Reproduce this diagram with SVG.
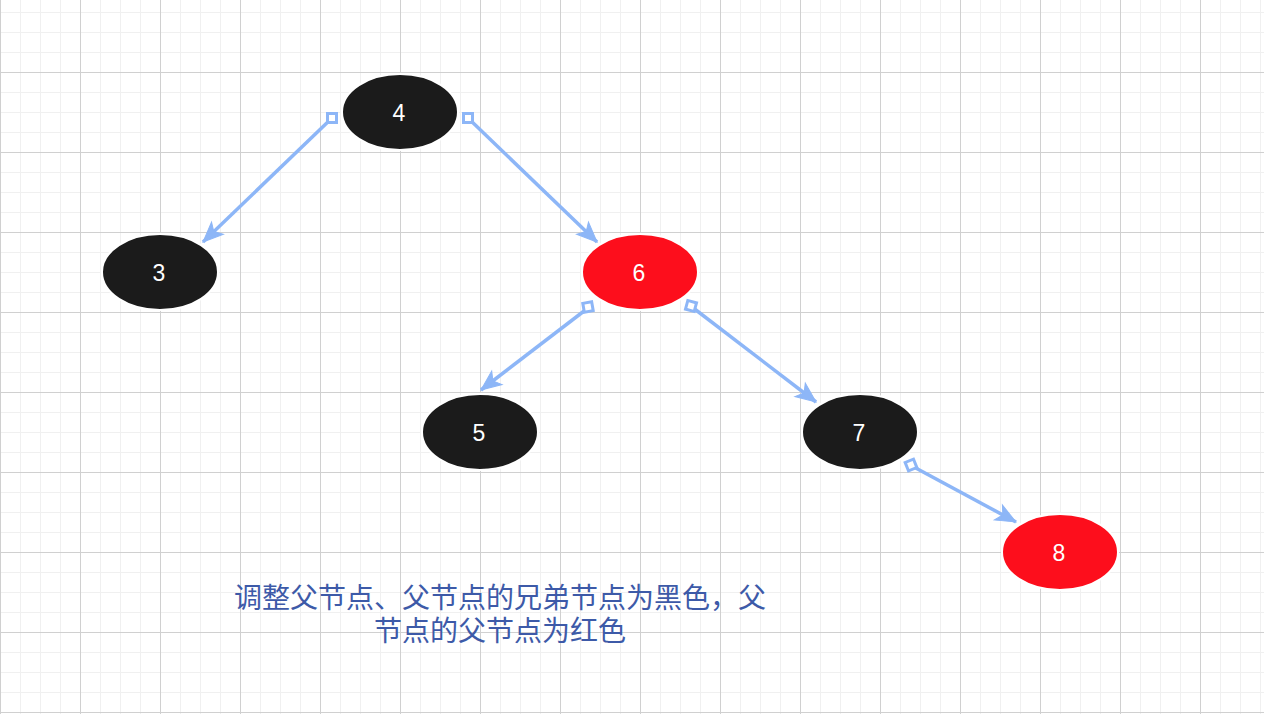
<svg xmlns="http://www.w3.org/2000/svg" width="1264" height="714" viewBox="0 0 1264 714">
<defs>
<pattern id="minor" patternUnits="userSpaceOnUse" x="0" y="12" width="20" height="20">
<path d="M0.5,0 V20 M0,0.5 H20" stroke="#f0f0f0" stroke-width="1" fill="none"/>
</pattern>
<pattern id="major" patternUnits="userSpaceOnUse" x="0" y="72" width="80" height="80">
<path d="M0.5,0 V80 M0,0.5 H80" stroke="#d0d0d0" stroke-width="1" fill="none"/>
</pattern>
<rect id="sq" x="-4.5" y="-4.5" width="9" height="9" fill="#ffffff" stroke="#8db6f7" stroke-width="3"/>
<marker id="arrow" markerUnits="userSpaceOnUse" markerWidth="26" markerHeight="26" refX="21" refY="13" orient="auto" overflow="visible">
<path d="M21,13 L1,4.5 L6,13 L1,21.5 Z" fill="#8db6f7" stroke="#8db6f7" stroke-width="1"/>
</marker>
<style>
.edge{stroke:#8db6f7;stroke-width:3.5;fill:none;marker-end:url(#arrow)}
.black{fill:#1b1b1b;stroke:#ffffff;stroke-width:2}
.red{fill:#fd0e1c;stroke:#ffffff;stroke-width:2}
.num{fill:#ffffff;font-family:"Liberation Sans",Arial,sans-serif;font-size:23px;text-anchor:middle;dominant-baseline:central}
.cap{fill:#3d5aa8;font-family:"Noto Sans CJK SC","Noto Sans CJK TC",sans-serif;font-size:28px;text-anchor:middle}
</style>
</defs>
<rect width="1264" height="714" fill="#ffffff"/>
<rect width="1264" height="714" fill="url(#minor)"/>
<rect width="1264" height="714" fill="url(#major)"/>
<g id="connectors">
<path class="edge" d="M332,118 L203,242"/>
<path class="edge" d="M468,118 L597,242"/>
<path class="edge" d="M588,308 L481,390"/>
<path class="edge" d="M692,307 L816,402"/>
<path class="edge" d="M912,466 L1016,522"/>
<use href="#sq" transform="translate(332,118)"/>
<use href="#sq" transform="translate(468,118)"/>
<use href="#sq" transform="translate(588,307) rotate(-10)"/>
<use href="#sq" transform="translate(691,306) rotate(15)"/>
<use href="#sq" transform="translate(911,465) rotate(-22)"/>
</g>
<g id="n4"><ellipse class="black" cx="400" cy="112" rx="58" ry="38"/><text class="num" x="399" y="113">4</text></g>
<g id="n3"><ellipse class="black" cx="160" cy="272" rx="58" ry="38"/><text class="num" x="159" y="273">3</text></g>
<g id="n6"><ellipse class="red" cx="640" cy="272" rx="58" ry="38"/><text class="num" x="639" y="273">6</text></g>
<g id="n5"><ellipse class="black" cx="480" cy="432" rx="58" ry="38"/><text class="num" x="479" y="433">5</text></g>
<g id="n7"><ellipse class="black" cx="860" cy="432" rx="58" ry="38"/><text class="num" x="859" y="433">7</text></g>
<g id="n8"><ellipse class="red" cx="1060" cy="552" rx="58" ry="38"/><text class="num" x="1059" y="553">8</text></g>
<g id="caption">
<text class="cap"><tspan x="500" y="608">调整父节点、父节点的兄弟节点为黑色，父</tspan><tspan x="500" y="641">节点的父节点为红色</tspan></text>
</g>
</svg>
